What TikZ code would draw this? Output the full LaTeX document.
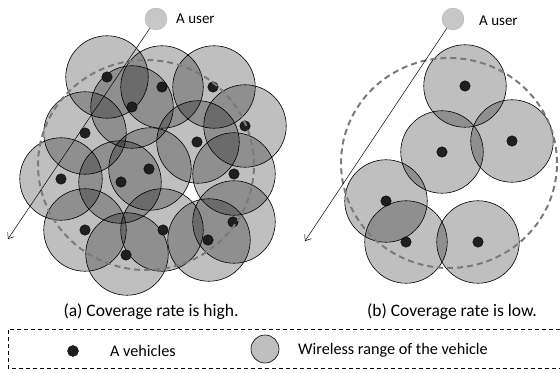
\documentclass[tikz,border=0pt]{standalone}
\usepackage{fontspec}
\setmainfont{Carlito}
\usetikzlibrary{arrows.meta}
\begin{document}
\begin{tikzpicture}[x=1pt,y=-1pt,
  wrange/.style={circle, draw=black, line width=0.6pt, fill=black, fill opacity=0.25, minimum size=82.5pt, inner sep=0pt},
  vehicle/.style={circle, fill=black!88, draw=black, line width=0.4pt, inner sep=0pt, minimum size=10.5pt},
  usernode/.style={circle, fill=black!22, draw=black!28, line width=0.4pt, inner sep=0pt, minimum size=22pt},
  coverage/.style={draw=black!52, dash pattern=on 6pt off 4pt, line width=2pt},
  userpath/.style={-{Straight Barb[length=5pt,width=8pt]}, line width=0.5pt},
  lbltext/.style={font=\fontsize{15}{18}\selectfont, inner sep=0pt},
  legtext/.style={font=\fontsize{16.2}{19}\selectfont, inner sep=0pt},
  captext/.style={font=\fontsize{17.5}{20}\selectfont, inner sep=0pt},
  legendbox/.style={draw=black, dash pattern=on 4pt off 3pt, line width=0.6pt}]
\useasboundingbox (0,0) rectangle (560,374);
% ---------- panel (a) ----------
\foreach \n/\x/\y in {a1/107/77, a2/162/87, a3/214/87, a4/132/107, a5/245/126, a6/85/133,
  a7/198/142, a8/150/169, a9/120/182, a10/61/179, a11/234/174, a12/85/230,
  a13/162/230, a14/127/254, a15/234/222, a16/209/240}{
  \node[wrange] (r\n) at (\x,\y) {};
}
\foreach \n/\x/\y in {a1/107/77, a2/162/87, a3/213/87, a4/132/107, a5/245/126, a6/85/133,
  a7/197/142, a8/149/169, a9/121/182, a10/61/179, a11/234/174, a12/85/230,
  a13/163/230, a14/126/255, a15/233/222, a16/208/240}{
  \node[vehicle] (v\n) at (\x,\y) {};
}
\draw[coverage] (146,165) ellipse [x radius=108pt, y radius=105pt];
\node[usernode] (usera) at (156,19) {};
\node[lbltext, anchor=west] (labela) at (176,19) {A user};
\coordinate (tipa) at (8,239);
\draw[userpath] (usera) -- (tipa);
% ---------- panel (b) ----------
\foreach \n/\x/\y in {b1/465/86, b2/512/141, b3/442/152, b4/386/201, b5/406/242, b6/478/242}{
  \node[wrange] (r\n) at (\x,\y) {};
  \node[vehicle] (v\n) at (\x,\y) {};
}
\draw[coverage] (449,163) ellipse [x radius=108pt, y radius=105pt];
\node[usernode] (userb) at (453,19) {};
\node[lbltext, anchor=west] (labelb) at (479,21) {A user};
\coordinate (tipb) at (305,241);
\draw[userpath] (userb) -- (tipb);
% ---------- captions ----------
\node[captext] (capa) at (151,312) {(a) Coverage rate is high.};
\node[captext] (capb) at (452,312) {(b) Coverage rate is low.};
% ---------- legend ----------
\draw[legendbox] (560,329.5) -- (8,329.5) -- (8,368) -- (560,368);
\node[vehicle, minimum size=11pt] (legdot) at (73,351) {};
\node[legtext, anchor=west] (legdottext) at (110,351) {A vehicles};
\node[wrange, fill opacity=1, fill=black!25, minimum size=28pt] (legcirc) at (265,349) {};
\node[legtext, anchor=west] (legcirctext) at (298,350) {Wireless range of the vehicle};
\end{tikzpicture}
\end{document}
